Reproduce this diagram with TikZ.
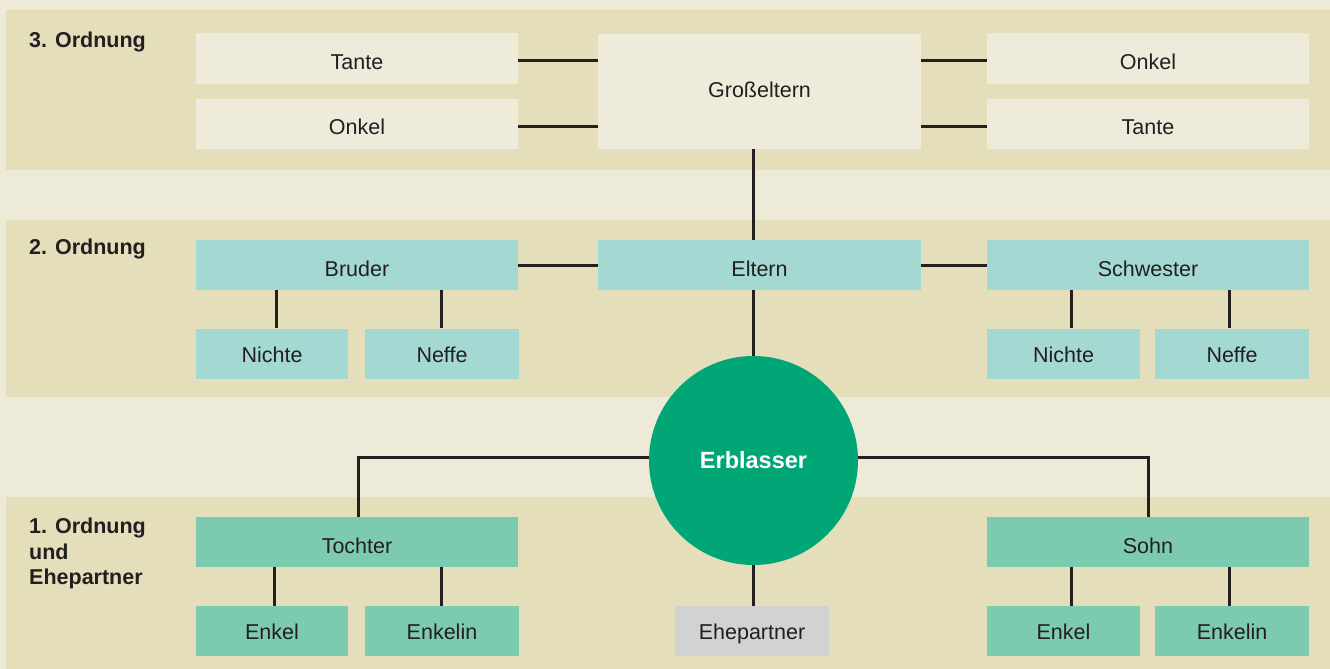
\documentclass[tikz,border=0pt]{standalone}
\usepackage{fontspec}
\setmainfont{Liberation Sans}
\definecolor{bgc}{HTML}{EDEAD8}
\definecolor{bandc}{HTML}{E4DFBA}
\definecolor{lightc}{HTML}{EEEBDA}
\definecolor{tealc}{HTML}{A3D9D2}
\definecolor{greenc}{HTML}{7CCBB1}
\definecolor{circc}{HTML}{00A676}
\definecolor{greyc}{HTML}{D1D2D3}
\definecolor{ink}{HTML}{231F20}
\pgfdeclarelayer{bg}
\pgfdeclarelayer{lines}
\pgfsetlayers{bg,lines,main}
\tikzset{
  box/.style={rectangle, inner sep=0pt, minimum height=50pt, text=ink, text depth=0pt, font=\fontsize{21.5}{24}\selectfont},
  wide/.style={box, minimum width=322pt, text height=22pt},
  small/.style={box, minimum width=153pt, text height=17pt},
  third/.style={fill=lightc},
  second/.style={fill=tealc},
  first/.style={fill=greenc},
  conn/.style={draw=ink, line width=3pt},
  ordlabel/.style={anchor=base west, inner sep=0pt, text=ink, font=\fontsize{21.5}{25.5}\selectfont\bfseries, align=left},
}
\begin{document}
\begin{tikzpicture}[x=1pt, y=-1pt]
\useasboundingbox (0,0) rectangle (1330,669);
% nodes
\node[wide, third] (tanteL) at (357,58.5) {Tante};
\node[wide, third] (onkelL) at (357,123.5) {Onkel};
\node[box, third, minimum width=323pt, minimum height=114pt, text height=11pt] (gross) at (759.5,91.5) {Großeltern};
\node[wide, third] (onkelR) at (1148,58.5) {Onkel};
\node[wide, third] (tanteR) at (1148,123.5) {Tante};

\node[wide, second] (bruder) at (357,265) {Bruder};
\node[wide, second, minimum width=323pt] (eltern) at (759.5,265) {Eltern};
\node[wide, second] (schwester) at (1148,265) {Schwester};
\node[small, second, minimum width=152pt] (nichteL) at (272,353.5) {Nichte};
\node[small, second, minimum width=154pt] (neffeL) at (442,353.5) {Neffe};
\node[small, second] (nichteR) at (1063.5,353.5) {Nichte};
\node[small, second, minimum width=154pt] (neffeR) at (1232,353.5) {Neffe};

\node[circle, fill=circc, inner sep=0pt, minimum size=209pt, text=white, font=\fontsize{23.5}{26}\selectfont\bfseries] (erb) at (753.5,460.5) {Erblasser};

\node[wide, first] (tochter) at (357,542) {Tochter};
\node[wide, first] (sohn) at (1148,542) {Sohn};
\node[small, first, minimum width=152pt] (enkelL) at (272,631) {Enkel};
\node[small, first, minimum width=154pt] (enkelinL) at (442,631) {Enkelin};
\node[small, first] (enkelR) at (1063.5,631) {Enkel};
\node[small, first, minimum width=154pt] (enkelinR) at (1232,631) {Enkelin};
\node[small, fill=greyc, minimum width=154pt] (ehe) at (752,631) {Ehepartner};

\node[ordlabel] (o3) at (29,48) {3. Ordnung};
\node[ordlabel] (o2) at (29,254) {2. Ordnung};
\node[ordlabel, anchor=north west] (o1) at (29,518) {1. Ordnung\\und\\Ehepartner};

\begin{pgfonlayer}{bg}
  \fill[bgc] (0,0) rectangle (1330,669);
  \fill[bandc] (6,10) rectangle (1330,170);
  \fill[bandc] (6,220) rectangle (1330,397);
  \fill[bandc] (6,497) rectangle (1330,669);
\end{pgfonlayer}

\begin{pgfonlayer}{lines}
  \draw[conn] ([yshift=-2.5pt]tanteL.east) -- ([yshift=-2.5pt]tanteL.east -| gross.west);
  \draw[conn] ([yshift=-2.5pt]onkelL.east) -- ([yshift=-2.5pt]onkelL.east -| gross.west);
  \draw[conn] ([yshift=-2.5pt]onkelR.west) -- ([yshift=-2.5pt]onkelR.west -| gross.east);
  \draw[conn] ([yshift=-2.5pt]tanteR.west) -- ([yshift=-2.5pt]tanteR.west -| gross.east);
  \draw[conn] (gross.south -| erb.center) -- (eltern.north -| erb.center);
  \draw[conn] (bruder.east) -- (eltern.west);
  \draw[conn] (eltern.east) -- (schwester.west);
  \draw[conn] ([xshift=4pt]nichteL.north) -- ([xshift=4pt]nichteL.north |- bruder.south);
  \draw[conn] ([xshift=-1pt]neffeL.north) -- ([xshift=-1pt]neffeL.north |- bruder.south);
  \draw[conn] ([xshift=7.5pt]nichteR.north) -- ([xshift=7.5pt]nichteR.north |- schwester.south);
  \draw[conn] ([xshift=-3pt]neffeR.north) -- ([xshift=-3pt]neffeR.north |- schwester.south);
  \draw[conn] (eltern.south -| erb.center) -- (erb.north);
  \draw[conn] ([yshift=3.5pt]erb.west) -| ([xshift=1pt]tochter.north);
  \draw[conn] ([yshift=3.5pt]erb.east) -| (sohn.north);
  \draw[conn] ([xshift=2pt]enkelL.north) -- ([xshift=2pt]enkelL.north |- tochter.south);
  \draw[conn] ([xshift=-1pt]enkelinL.north) -- ([xshift=-1pt]enkelinL.north |- tochter.south);
  \draw[conn] ([xshift=7.5pt]enkelR.north) -- ([xshift=7.5pt]enkelR.north |- sohn.south);
  \draw[conn] ([xshift=-3pt]enkelinR.north) -- ([xshift=-3pt]enkelinR.north |- sohn.south);
  \draw[conn] (erb.south) -- (ehe.north -| erb.center);
\end{pgfonlayer}
\end{tikzpicture}
\end{document}
